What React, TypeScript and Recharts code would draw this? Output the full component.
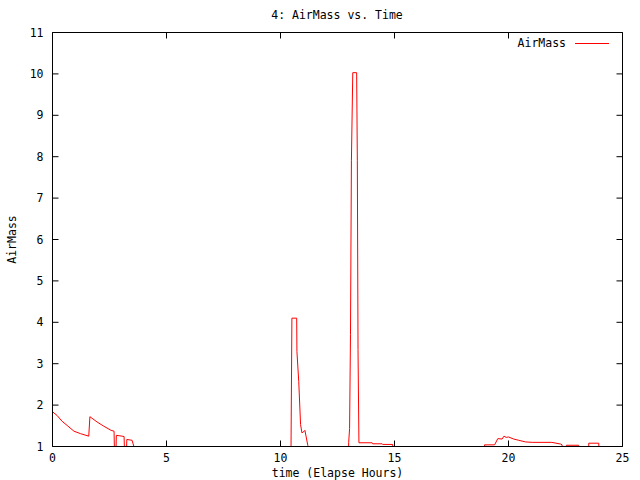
import React from "react";
import {
  LineChart,
  Line,
  XAxis,
  YAxis,
  ReferenceLine,
  Legend,
} from "recharts";

// elapsed hours and airmass; 0 = no valid airmass (clipped below the axis)
const hours = [
  0.0, 0.2, 0.42, 0.64, 0.94, 1.23, 1.59, 1.64, 1.96, 2.25, 2.57, 2.7, 2.75, 2.8, 3.05, 3.14, 3.2, 3.26, 3.49, 3.57, 3.6,
  10.45, 10.5, 10.71, 10.72, 10.8, 10.88, 10.94, 11.0, 11.07, 11.2, 11.22,
  12.96, 12.99, 13.03, 13.07, 13.11, 13.17, 13.34, 13.37, 13.4, 13.44, 14.02, 14.04, 14.46, 14.48, 14.92, 14.95,
  18.93, 18.95, 19.39, 19.53, 19.72, 19.8, 19.9, 20.0, 20.23, 20.45, 20.75, 21.04, 21.9, 22.28, 22.35, 22.37,
  22.52, 22.54, 23.08, 23.1, 23.5, 23.52, 23.96, 23.98,
];
const airMass = [
  1.84, 1.75, 1.61, 1.51, 1.37, 1.31, 1.25, 1.72, 1.59, 1.49, 1.39, 1.37, 0, 1.27, 1.25, 1.24, 0, 1.17, 1.15, 1.0, 0,
  0, 4.1, 4.1, 3.3, 2.57, 1.53, 1.33, 1.35, 1.39, 1.02, 0,
  0, 1.1, 1.43, 3.7, 7.9, 10.03, 10.03, 7.9, 3.34, 1.09, 1.09, 1.065, 1.065, 1.05, 1.05, 0,
  0, 1.04, 1.04, 1.19, 1.18, 1.25, 1.22, 1.23, 1.18, 1.15, 1.11, 1.1, 1.1, 1.06, 1.04, 0,
  0, 1.03, 1.03, 0, 0, 1.08, 1.08, 0,
];

const xTicks = [0, 5, 10, 15, 20, 25];
const yTicks = [1, 2, 3, 4, 5, 6, 7, 8, 9, 10, 11];

const data = hours.map((h, i) => ({ h, airMass: airMass[i] }));

const W = 640;
const H = 480;
// plot box: x 52.5..622.5, y 32.5..446.5 (axes take 1px each)
const margin = { top: 32.5, right: 17.5, bottom: 32.5, left: 51.5 };
const PLOT_TOP = 32.5;
const PLOT_RIGHT = 622.5;
const TICK = 6;
const FONT = "'DejaVu Sans Mono', monospace";
const FS = 11.5;

const XTick = (props: any) => {
  const { x, y, payload } = props;
  return (
    <g>
      <line x1={x} y1={y} x2={x} y2={y - TICK} stroke="#000" />
      <line x1={x} y1={PLOT_TOP} x2={x} y2={PLOT_TOP + TICK} stroke="#000" />
      <text x={x} y={y + 15} textAnchor="middle" fontFamily={FONT} fontSize={FS} fill="#000">
        {payload.value}
      </text>
    </g>
  );
};

const YTick = (props: any) => {
  const { x, y, payload } = props;
  return (
    <g>
      <line x1={x} y1={y} x2={x + TICK} y2={y} stroke="#000" />
      <line x1={PLOT_RIGHT} y1={y} x2={PLOT_RIGHT - TICK} y2={y} stroke="#000" />
      <text x={x - 9} y={y + 4} textAnchor="end" fontFamily={FONT} fontSize={FS} fill="#000">
        {payload.value}
      </text>
    </g>
  );
};

const YLabel = (props: any) => {
  const vb = props.viewBox || {};
  const cx = 12;
  const cy = vb.y + vb.height / 2;
  return (
    <text
      x={cx}
      y={cy}
      transform={`rotate(-90 ${cx} ${cy})`}
      textAnchor="middle"
      dominantBaseline="central"
      fontFamily={FONT}
      fontSize={FS}
      fill="#000"
    >
      AirMass
    </text>
  );
};

const XLabel = (props: any) => {
  const vb = props.viewBox || {};
  return (
    <text
      x={vb.x + vb.width / 2}
      y={vb.y + 30}
      textAnchor="middle"
      fontFamily={FONT}
      fontSize={FS}
      fill="#000"
    >
      time (Elapse Hours)
    </text>
  );
};

const LegendBox = () => (
  <svg width={W} height={16} style={{ display: "block" }}>
    <text x={566} y={12} textAnchor="end" fontFamily={FONT} fontSize={FS} fill="#000">
      AirMass
    </text>
    <line x1={575} x2={609} y1={8.5} y2={8.5} stroke="#ff0000" />
  </svg>
);

export default function App() {
  return (
    <div style={{ position: "absolute", left: 0, top: 0, width: W, height: H, background: "#fff" }}>
      <div
        style={{
          position: "absolute",
          top: 8,
          left: 0,
          width: 674,
          textAlign: "center",
          fontFamily: FONT,
          fontSize: FS,
          lineHeight: "14px",
          color: "#000",
        }}
      >
        4: AirMass vs. Time
      </div>
      <LineChart width={W} height={H} data={data} margin={margin}>
        <XAxis
          dataKey="h"
          type="number"
          domain={[0, 25]}
          ticks={xTicks}
          interval={0}
          height={1}
          tickSize={0}
          tickMargin={0}
          tickLine={false}
          axisLine={{ stroke: "#000" }}
          tick={<XTick />}
          label={<XLabel />}
        />
        <YAxis
          type="number"
          domain={[1, 11]}
          ticks={yTicks}
          interval={0}
          width={1}
          tickSize={0}
          tickMargin={0}
          tickLine={false}
          allowDataOverflow
          axisLine={{ stroke: "#000" }}
          tick={<YTick />}
          label={<YLabel />}
        />
        <ReferenceLine y={11} stroke="#000" />
        <ReferenceLine x={25} stroke="#000" />
        <Legend
          layout="vertical"
          align="center"
          verticalAlign="middle"
          wrapperStyle={{ top: 35, left: 0, width: W, height: 16 }}
          content={<LegendBox />}
        />
        <Line
          type="linear"
          dataKey="airMass"
          stroke="#ff0000"
          strokeWidth={1}
          dot={false}
          activeDot={false}
          isAnimationActive={false}
        />
      </LineChart>
    </div>
  );
}
